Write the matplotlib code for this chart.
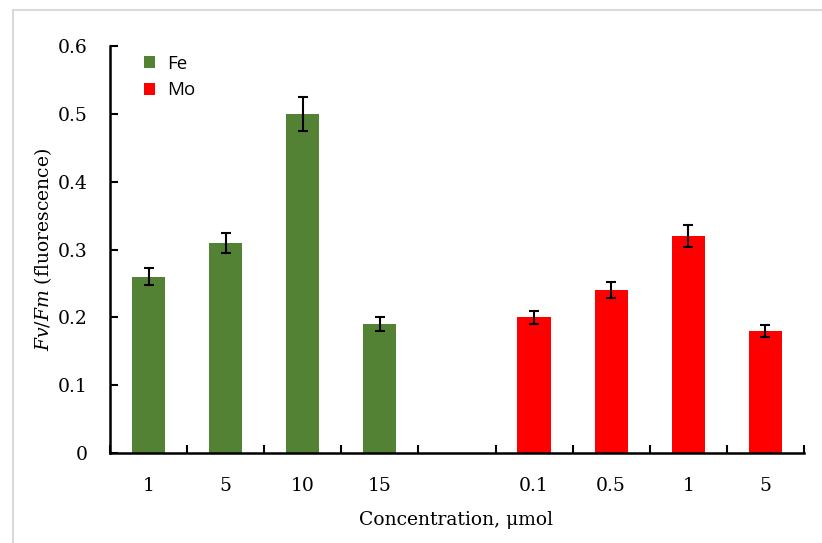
import matplotlib.pyplot as plt
import numpy as np
from matplotlib.patches import Rectangle

# data
fe_labels = ["1", "5", "10", "15"]
fe_values = [0.26, 0.31, 0.50, 0.19]
fe_errors = [0.013, 0.015, 0.025, 0.010]

mo_labels = ["0.1", "0.5", "1", "5"]
mo_values = [0.20, 0.24, 0.32, 0.18]
mo_errors = [0.010, 0.012, 0.016, 0.009]

serif = "DejaVu Serif"
fsize = 13.5
plt.rcParams['mathtext.fontset'] = 'custom'
plt.rcParams['mathtext.it'] = serif + ':italic'
plt.rcParams['mathtext.rm'] = serif

fig = plt.figure(figsize=(8.22, 5.43), dpi=100)
fig.patches.append(Rectangle((13 / 822, -0.1), 1.2, 1.1 - 10 / 543,
                             transform=fig.transFigure, fill=False,
                             edgecolor="#d9d9d9", linewidth=1.5))
ax = fig.add_axes([0.1338, 0.1657, 0.978 - 0.1338, 0.9153 - 0.1657])

# Fe in slots 0..3, one empty slot, Mo in slots 5..8
fe_x = np.arange(len(fe_values))
mo_x = np.arange(len(mo_values)) + len(fe_values) + 1

bw = 0.43
ekw = dict(ecolor="black", elinewidth=1.5, capsize=3.5, capthick=1.5)
ax.bar(fe_x, fe_values, bw, color="#548235", label="Fe", yerr=fe_errors, error_kw=ekw)
ax.bar(mo_x, mo_values, bw, color="#ff0000", label="Mo", yerr=mo_errors, error_kw=ekw)

ax.set_xlim(-0.5, 8.5)
ax.set_ylim(0, 0.6)
ax.set_yticks(np.arange(0, 0.61, 0.1))
ax.set_yticklabels(["0", "0.1", "0.2", "0.3", "0.4", "0.5", "0.6"])

ax.set_xticks(list(fe_x) + list(mo_x))
ax.set_xticklabels(fe_labels + mo_labels)
ax.set_xticks(np.arange(-0.5, 9.0, 1.0), minor=True)
ax.tick_params(axis="x", which="major", length=0, pad=17)
ax.tick_params(axis="x", which="minor", direction="in", length=6, width=1.5)
ax.tick_params(axis="y", direction="in", length=6, width=1.5, pad=16)
for lab in ax.get_xticklabels() + ax.get_yticklabels():
    lab.set_fontfamily(serif)
    lab.set_fontsize(fsize)

for s in ["top", "right"]:
    ax.spines[s].set_visible(False)
for s in ["left", "bottom"]:
    ax.spines[s].set_linewidth(1.8)

ax.set_ylabel(r"$Fv/Fm$ (fluorescence)", fontfamily=serif, fontsize=fsize)
ax.set_xlabel("Concentration, μmol", fontfamily=serif, fontsize=fsize)
ax.yaxis.set_label_coords(-0.0965, 0.5)
ax.yaxis.label.set_va("center")
ax.xaxis.set_label_coords(0.4986, -0.1646)
ax.xaxis.label.set_va("center")

ax.legend(loc="upper left", bbox_to_anchor=(0.025, 1.02), frameon=False,
          prop={"family": "Open Sans", "size": 13.5}, handlelength=0.6, handleheight=0.6,
          handletextpad=0.6, labelspacing=0.45)

plt.savefig("out.png", dpi=100)
